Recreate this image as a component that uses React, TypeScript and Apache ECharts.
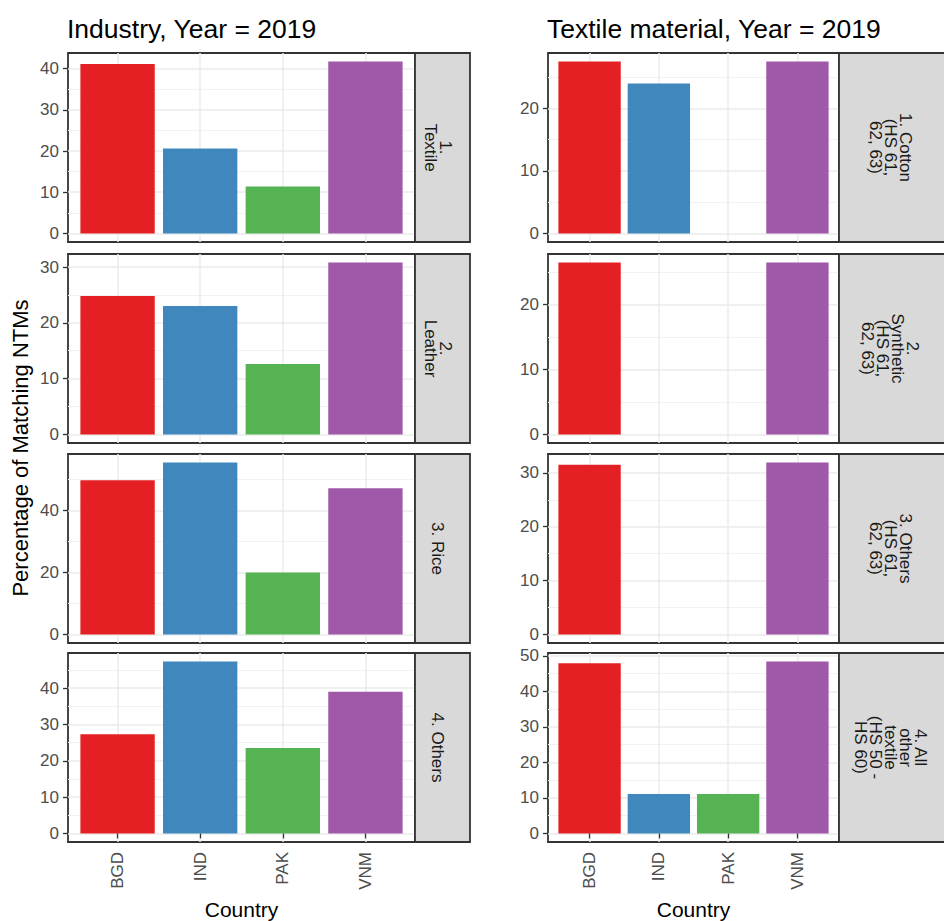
import React, { useEffect, useRef } from "react";
import * as echarts from "echarts";

const countries = ["BGD", "IND", "PAK", "VNM"];
const barColors = ["#E42024", "#3F87BD", "#56B353", "#A058A9"];

const industryTitle = "Industry, Year = 2019";
const materialTitle = "Textile material, Year = 2019";
const xTitle = "Country";
const yTitle = "Percentage of Matching NTMs";

const industryStrips = ["1.\nTextile", "2.\nLeather", "3. Rice", "4. Others"];
const materialStrips = [
  "1. Cotton\n(HS 61,\n62, 63)",
  "2.\nSynthetic\n(HS 61,\n62, 63)",
  "3. Others\n(HS 61,\n62, 63)",
  "4. All\nother\ntextile\n(HS 50 -\nHS 60)",
];

// values per country: BGD, IND, PAK, VNM (null = no bar)
const industryTextile = [41.1, 20.6, 11.4, 41.7];
const industryLeather = [24.8, 23.0, 12.6, 30.8];
const industryRice = [49.8, 55.5, 20.0, 47.2];
const industryOthers = [27.3, 47.3, 23.5, 39.0];

const materialCotton = [27.5, 24.0, null, 27.5];
const materialSynthetic = [26.5, null, null, 26.5];
const materialOthers = [31.5, null, null, 31.9];
const materialAllOther = [47.9, 11.1, 11.1, 48.4];

const industryTicks = [
  [0, 10, 20, 30, 40],
  [0, 10, 20, 30],
  [0, 20, 40],
  [0, 10, 20, 30, 40],
];
const materialTicks = [
  [0, 10, 20],
  [0, 10, 20],
  [0, 10, 20, 30],
  [0, 10, 20, 30, 40, 50],
];
const xTicks = [1, 2, 3, 4];

const FONT = "'Liberation Sans', Arial, sans-serif";

export default function App() {
  const ref = useRef<HTMLDivElement>(null);

  useEffect(() => {
    document.body.style.margin = "0";
    if (!ref.current) return;
    const chart = echarts.init(ref.current, undefined, { renderer: "svg" });

    const columns = [
      {
        x: 68,
        w: 347,
        stripW: 55,
        title: industryTitle,
        strips: industryStrips,
        data: [industryTextile, industryLeather, industryRice, industryOthers],
        ticks: industryTicks,
      },
      {
        x: 548,
        w: 291,
        stripW: 112,
        title: materialTitle,
        strips: materialStrips,
        data: [materialCotton, materialSynthetic, materialOthers, materialAllOther],
        ticks: materialTicks,
      },
    ];
    const rowTop = [53, 254, 454, 653];
    const rowH = 189;

    const grids: any[] = [];
    const xAxes: any[] = [];
    const yAxes: any[] = [];
    const series: any[] = [];
    const graphics: any[] = [];

    columns.forEach((col, c) => {
      col.data.forEach((vals, r) => {
        const k = grids.length;
        const isBottom = r === 3;
        const present = vals.filter((v) => v != null) as number[];
        const M = Math.max(...present);
        const ticks = col.ticks[r];
        const step = ticks[1] - ticks[0];
        grids.push({
          left: col.x,
          top: rowTop[r],
          width: col.w,
          height: rowH,
          show: true,
          backgroundColor: "#ffffff",
          borderColor: "#333333",
          borderWidth: 1.8,
          containLabel: false,
        });
        xAxes.push({
          type: "value",
          gridIndex: k,
          min: 0.4,
          max: 4.6,
          minInterval: 1,
          maxInterval: 1,
          axisLine: { show: false },
          axisTick: {
            show: isBottom,
            customValues: xTicks,
            length: 5,
            lineStyle: { color: "#333333", width: 1.3 },
          },
          axisLabel: {
            show: isBottom,
            customValues: xTicks,
            formatter: (v: number) => countries[Math.round(v) - 1] ?? "",
            rotate: 90,
            margin: 10,
            color: "#4d4d4d",
            fontSize: 17,
            fontFamily: FONT,
          },
          splitLine: { show: true, lineStyle: { color: "#ebebeb", width: 1.5 } },
        });
        yAxes.push({
          type: "value",
          gridIndex: k,
          min: -0.05 * M,
          max: 1.05 * M,
          minInterval: step,
          maxInterval: step,
          axisLine: { show: false },
          axisTick: {
            show: true,
            customValues: ticks,
            length: 5,
            lineStyle: { color: "#333333", width: 1.3 },
          },
          axisLabel: {
            customValues: ticks,
            formatter: (v: number) =>
              Math.abs(v / step - Math.round(v / step)) < 1e-6 ? String(Math.round(v)) : "",
            margin: 9,
            color: "#4d4d4d",
            fontSize: 17,
            fontFamily: FONT,
          },
          splitLine: { show: true, lineStyle: { color: "#ebebeb", width: 1.5 } },
          minorTick: { show: false, splitNumber: 2 },
          minorSplitLine: { show: true, lineStyle: { color: "#f2f2f2", width: 1 } },
        });
        series.push({
          type: "bar",
          xAxisIndex: k,
          yAxisIndex: k,
          barWidth: (0.9 * col.w) / 4.2,
          data: vals
            .map((v, i) =>
              v == null ? null : { value: [i + 1, v], itemStyle: { color: barColors[i] } }
            )
            .filter((d) => d != null),
        });

        // strip
        graphics.push({
          type: "rect",
          shape: { x: col.x + col.w, y: rowTop[r], width: col.stripW, height: rowH },
          style: { fill: "#d9d9d9", stroke: "#333333", lineWidth: 1.8 },
          z: 10,
        });
        graphics.push({
          type: "text",
          x: col.x + col.w + col.stripW / 2 - 5,
          y: rowTop[r] + rowH / 2,
          rotation: -Math.PI / 2,
          style: {
            text: col.strips[r],
            fill: "#1a1a1a",
            fontSize: 17,
            fontFamily: FONT,
            align: "center",
            verticalAlign: "middle",
            lineHeight: 15,
          },
          z: 11,
        });
      });

      graphics.push({
        type: "text",
        x: col.x - 1,
        y: 29,
        style: {
          text: col.title,
          fill: "#000000",
          fontSize: 26.5,
          fontFamily: FONT,
          align: "left",
          verticalAlign: "middle",
        },
      });
      graphics.push({
        type: "text",
        x: col.x + col.w / 2,
        y: 909,
        style: {
          text: xTitle,
          fill: "#000000",
          fontSize: 21,
          fontFamily: FONT,
          align: "center",
          verticalAlign: "middle",
        },
      });
    });

    graphics.push({
      type: "text",
      x: 20,
      y: 448,
      rotation: Math.PI / 2,
      style: {
        text: yTitle,
        fill: "#000000",
        fontSize: 22,
        fontFamily: FONT,
        align: "center",
        verticalAlign: "middle",
      },
    });

    chart.setOption({
      animation: false,
      backgroundColor: "#ffffff",
      textStyle: { fontFamily: FONT },
      grid: grids,
      xAxis: xAxes,
      yAxis: yAxes,
      series,
      graphic: graphics,
    });

    return () => chart.dispose();
  }, []);

  return <div ref={ref} style={{ width: 944, height: 921 }} />;
}
